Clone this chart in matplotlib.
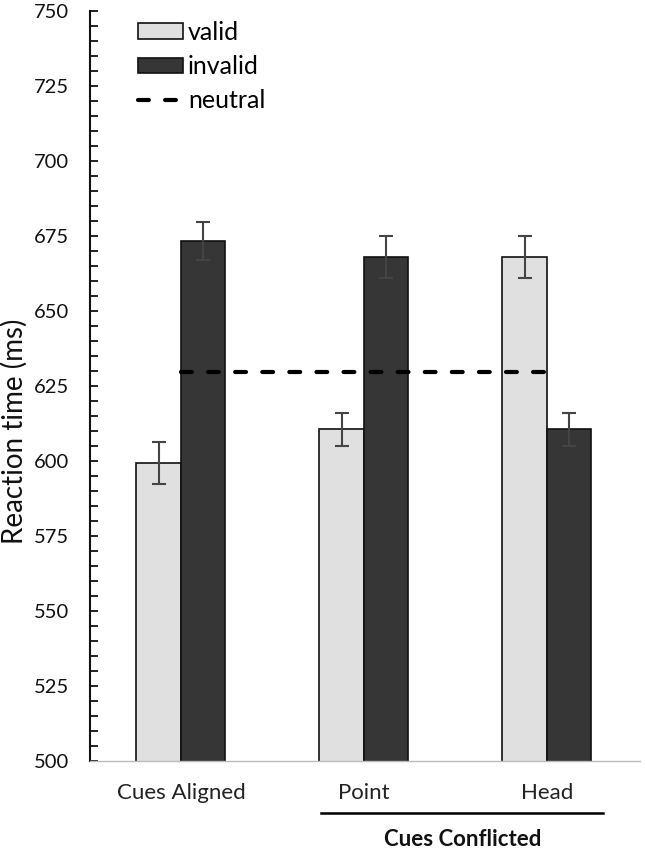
import matplotlib
matplotlib.use("Agg")
import matplotlib.pyplot as plt
import numpy as np
from matplotlib.lines import Line2D
from matplotlib.patches import Patch
import matplotlib.transforms as mtransforms

plt.rcParams['font.family'] = ['Lato', 'DejaVu Sans']

categories = ["Cues Aligned", "Point", "Head"]
valid = [599.3, 610.5, 668.0]
valid_err = [7.0, 5.5, 7.0]
invalid = [673.3, 668.0, 610.5]
invalid_err = [6.2, 7.0, 5.5]
neutral = 629.6
yticks = [500, 525, 550, 575, 600, 625, 650, 675, 700, 725, 750]

fig = plt.figure(figsize=(6.45, 8.52), dpi=100)
ax = fig.add_axes([0.1395, 0.1068, 0.8525, 0.8803])

x = np.arange(len(categories))
w = 0.243
ax.bar(x - w/2, valid, w, color='#e0e0e0', edgecolor='#111111', linewidth=1.2,
       yerr=valid_err, error_kw=dict(ecolor='#444444', elinewidth=1.5, capsize=5, capthick=1.5),
       label='valid', zorder=2)
ax.bar(x + w/2, invalid, w, color='#363636', edgecolor='#111111', linewidth=1.2,
       yerr=invalid_err, error_kw=dict(ecolor='#444444', elinewidth=1.5, capsize=5, capthick=1.5),
       label='invalid', zorder=2)
dash = (0, (2.6, 3.9))
ax.plot([x[0], x[-1]], [neutral, neutral], color='black', linestyle=dash,
        linewidth=3.0, dash_capstyle='round', label='neutral', zorder=3)

ax.set_ylim(500, 750)
ax.set_xlim(-0.497, 2.508)
ax.set_yticks(yticks)
ax.set_yticks(np.arange(500, 751, 5), minor=True)
ax.tick_params(axis='y', which='both', direction='in', length=6, width=1.3, labelsize=14.5,
               colors='#111111', pad=15)
ax.set_xticks(x)
ax.set_xticklabels(categories, fontsize=16, color='#222222')
ax.tick_params(axis='x', length=0, pad=16)

ax.spines['top'].set_visible(False)
ax.spines['right'].set_visible(False)
ax.spines['left'].set_linewidth(1.5)
ax.spines['left'].set_color('#111111')
ax.spines['bottom'].set_color('#bbbbbb')
ax.spines['bottom'].set_linewidth(1.0)

fig.text(14/645, 1 - 431/852, 'Reaction time (ms)', rotation=90, ha='center', va='center',
         fontsize=20, color='#111111')

trans = mtransforms.blended_transform_factory(ax.transData, fig.transFigure)
ax.add_line(Line2D([0.765, 2.306], [1 - 813/852, 1 - 813/852], transform=trans,
                   color='black', linewidth=1.8, clip_on=False))
fig.text(0.718, 1 - 840/852, 'Cues Conflicted', ha='center', va='center',
         fontsize=16, fontweight='bold', color='#111111')

handles = [Patch(facecolor='#e0e0e0', edgecolor='#111111', linewidth=1.2),
           Patch(facecolor='#363636', edgecolor='#111111', linewidth=1.2),
           Line2D([0], [0], color='black', linestyle=dash, linewidth=3.0,
                  dash_capstyle='round')]
ax.legend(handles, ['valid', 'invalid', 'neutral'], loc='upper left',
          bbox_to_anchor=(138/645, 1 - 21/852), bbox_transform=fig.transFigure,
          frameon=False, fontsize=18, borderpad=0, borderaxespad=0,
          handlelength=1.8, handleheight=0.6, handletextpad=0.2, labelspacing=0.45)

fig.savefig('out.png', dpi=100)
